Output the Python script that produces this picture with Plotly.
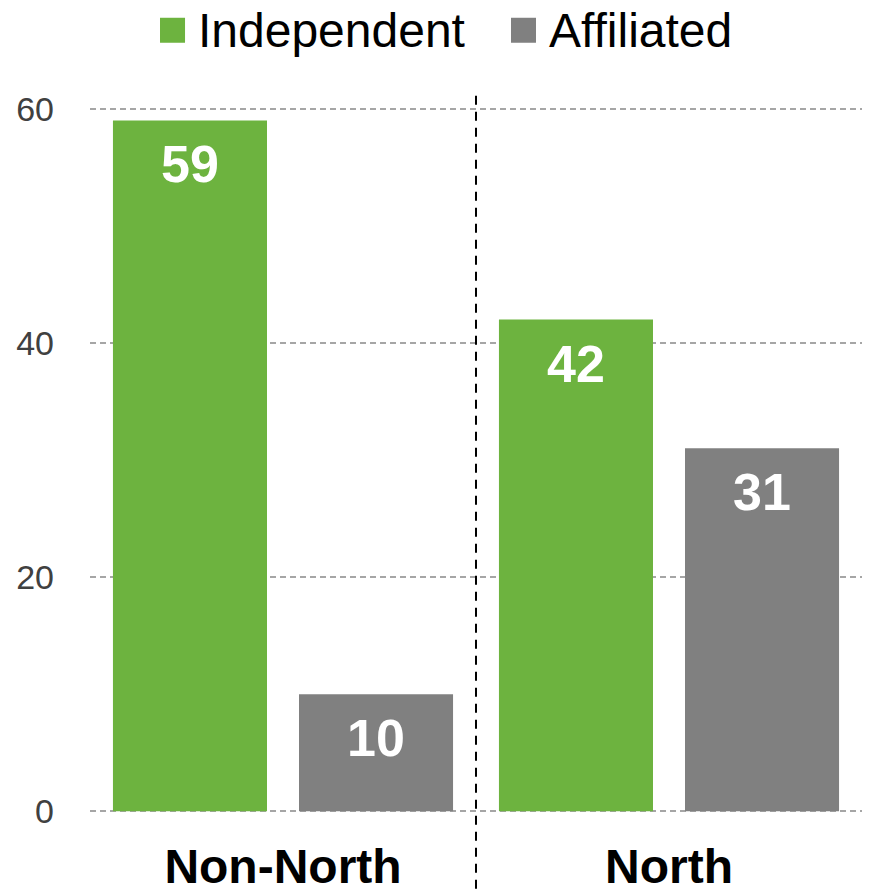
import plotly.graph_objects as go

# data
regions = ['Non-North', 'North']
independent = [59, 42]
affiliated = [10, 31]
y_ticks = [0, 20, 40, 60]

GREEN = '#6db33f'
GRAY = '#808080'
FONT = 'Liberation Sans, Arial, sans-serif'

fig = go.Figure()

series = [('Independent', independent, GREEN, -93), ('Affiliated', affiliated, GRAY, 93)]
for name, values, color, shift in series:
    fig.add_trace(go.Bar(
        x=regions, y=values, name=name,
        marker=dict(color=color, line=dict(width=0)),
        showlegend=False, hoverinfo='x+y+name',
    ))
    # value labels sit a bit below the top of each bar
    for region, v in zip(regions, values):
        fig.add_annotation(x=region, y=v, xref='x', yref='y', text=str(v),
                           showarrow=False, xshift=shift, yshift=-44,
                           yanchor='middle',
                           font=dict(family=FONT, size=52, color='white', weight='bold'))

# divider between the two groups
fig.add_shape(type='line', xref='paper', yref='paper',
              x0=0.5, x1=0.5, y0=-0.13, y1=1.0215,
              line=dict(color='black', width=2, dash='9px,7px'))

# hand-built legend (bigger squares than plotly's legend allows)
legend_items = [('Independent', GREEN, 0.0907), ('Affiliated', GRAY, 0.5453)]
for label, color, x0 in legend_items:
    fig.add_shape(type='rect', xref='paper', yref='paper',
                  x0=x0, x1=x0 + 0.0324, y0=1.091, y1=1.1264,
                  fillcolor=color, line=dict(width=0))
    fig.add_annotation(xref='paper', yref='paper', x=x0 + 0.047, y=1.108,
                       text=label, showarrow=False, xanchor='left', yanchor='middle',
                       font=dict(family=FONT, size=48, color='black'))

# the page body adds an 8px offset, so the figure is 8px smaller than the window
fig.update_layout(
    width=862, height=881,
    margin=dict(l=82, r=8, t=99, b=76),
    paper_bgcolor='white', plot_bgcolor='white',
    barmode='group', bargap=0.036, bargroupgap=0.172,
    font=dict(family=FONT),
)
fig.update_xaxes(
    showgrid=False, showline=False, ticks='', automargin=False,
    tickfont=dict(family=FONT, size=48, color='black', weight='bold'),
    ticklabelstandoff=21,
)
fig.update_yaxes(
    range=[-0.15, 60.15], tickvals=y_ticks, showline=False, zeroline=False,
    showgrid=True, gridcolor='#a6a6a6', gridwidth=1.5, griddash='6px,4px',
    tickfont=dict(family=FONT, size=34, color='#404040'),
    ticks='', ticklabelstandoff=35, automargin=False,
)

fig.write_html('out.html')
